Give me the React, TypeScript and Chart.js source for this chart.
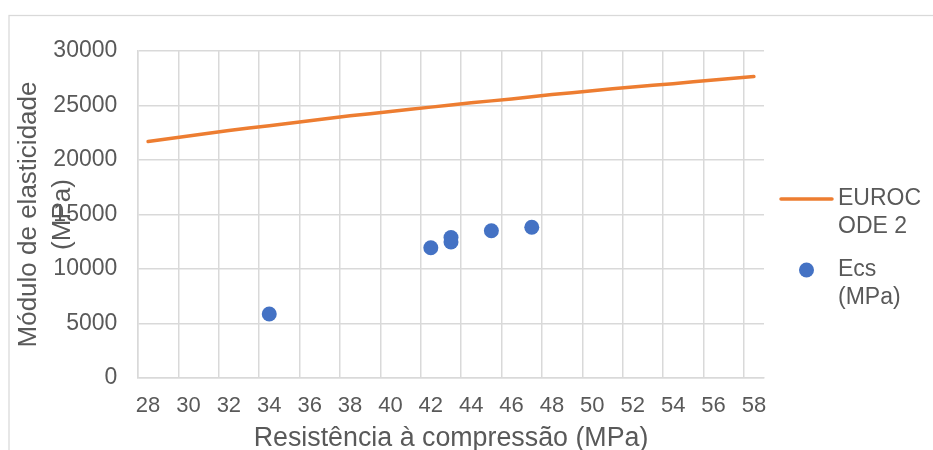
import React, { useEffect, useRef } from 'react';
import { Chart, registerables } from 'chart.js';

Chart.register(...registerables);

// ---- data ----
const xTickLabels = [28, 30, 32, 34, 36, 38, 40, 42, 44, 46, 48, 50, 52, 54, 56, 58];
const yTickValues = [0, 5000, 10000, 15000, 20000, 25000, 30000];

const eurocodeX = [28, 30, 32, 34, 36, 38, 40, 42, 44, 46, 48, 50, 52, 54, 56, 58];
const eurocodeY = [21700, 22200, 22700, 23150, 23600, 24050, 24450, 24850, 25250, 25600, 26000, 26350, 26700, 27000, 27350, 27650];

const ecsX = [34, 42, 43, 43, 45, 47];
const ecsY = [5870, 11950, 12480, 12890, 13510, 13830];

const seriesNames = ['EUROCODE 2', 'Ecs (MPa)'];
const xTitle = 'Resistência à compressão (MPa)';
const yTitle = ['Módulo de elasticidade', '(MPa)'];

const ORANGE = '#ED7D31';
const BLUE = '#4472C4';
const TEXT = '#595959';
const GRID = '#D9D9D9';
const FONT = "'Liberation Sans', Arial, sans-serif";

function wrapText(ctx: CanvasRenderingContext2D, text: string, maxW: number): string[] {
  const words = text.split(' ');
  const lines: string[] = [];
  let cur = '';
  for (const w of words) {
    const cand = cur ? cur + ' ' + w : w;
    if (ctx.measureText(cand).width <= maxW) {
      cur = cand;
      continue;
    }
    if (cur) lines.push(cur);
    cur = '';
    let word = w;
    while (ctx.measureText(word).width > maxW) {
      let n = 1;
      while (n < word.length && ctx.measureText(word.slice(0, n + 1)).width <= maxW) n++;
      lines.push(word.slice(0, n));
      word = word.slice(n);
    }
    cur = word;
  }
  if (cur) lines.push(cur);
  return lines;
}

const framePlugin = {
  id: 'frame',
  beforeDraw(chart: any) {
    const ctx = chart.ctx as CanvasRenderingContext2D;
    ctx.save();
    ctx.fillStyle = '#ffffff';
    ctx.fillRect(0, 0, chart.width, chart.height);
    ctx.strokeStyle = GRID;
    ctx.lineWidth = 1.25;
    ctx.strokeRect(9, 15.5, chart.width + 40, chart.height + 40);
    ctx.restore();
  },
};

const sideLegendPlugin = {
  id: 'sideLegend',
  afterDraw(chart: any) {
    const ctx = chart.ctx as CanvasRenderingContext2D;
    const textX = 838;
    const maxW = 95;
    const lineH = 27.5;
    let y = 199;
    ctx.save();
    ctx.font = `23px ${FONT}`;
    ctx.textBaseline = 'middle';
    ctx.textAlign = 'left';
    chart.data.datasets.forEach((d: any) => {
      const lines = wrapText(ctx, d.label, maxW);
      if (d.showLine) {
        ctx.strokeStyle = d.borderColor;
        ctx.lineWidth = 3.5;
        ctx.lineCap = 'round';
        ctx.beginPath();
        ctx.moveTo(781, y);
        ctx.lineTo(832, y);
        ctx.stroke();
      } else {
        ctx.fillStyle = d.backgroundColor;
        ctx.beginPath();
        ctx.arc(806.5, y, 7.5, 0, Math.PI * 2);
        ctx.fill();
      }
      ctx.fillStyle = TEXT;
      lines.forEach((l, j) => ctx.fillText(l, textX, y + j * lineH));
      y += lines.length * lineH + 16;
    });
    ctx.restore();
  },
};

export default function App() {
  const ref = useRef<HTMLCanvasElement | null>(null);

  useEffect(() => {
    if (!ref.current) return;
    Chart.defaults.font.family = FONT;
    const chart = new Chart(ref.current, {
      type: 'scatter',
      data: {
        datasets: [
          {
            label: seriesNames[0],
            data: eurocodeX.map((x, i) => ({ x, y: eurocodeY[i] })),
            showLine: true,
            borderColor: ORANGE,
            backgroundColor: ORANGE,
            borderWidth: 3.5,
            borderCapStyle: 'round',
            pointRadius: 0,
            tension: 0.3,
          },
          {
            label: seriesNames[1],
            data: ecsX.map((x, i) => ({ x, y: ecsY[i] })),
            backgroundColor: BLUE,
            borderColor: BLUE,
            borderWidth: 0,
            pointRadius: 7.5,
          },
        ],
      },
      options: {
        responsive: false,
        animation: false,
        layout: { padding: { left: 0, top: 51, right: 169, bottom: 0 } },
        plugins: { legend: { display: false }, tooltip: { enabled: false } },
        scales: {
          x: {
            type: 'linear',
            position: 'bottom',
            min: 27.5,
            max: 58.5,
            afterBuildTicks: (s: any) => {
              s.ticks = xTickLabels.map((v) => ({ value: v - 0.5 }));
            },
            afterFit: (s: any) => {
              s.height = 72;
            },
            grid: { color: GRID, lineWidth: 1.5, drawTicks: false },
            border: { color: GRID, width: 1.5 },
            ticks: {
              autoSkip: false,
              maxRotation: 0,
              padding: 14.5,
              labelOffset: 10.1,
              color: TEXT,
              font: { family: "'Liberation Sans Narrow', 'Liberation Sans', Arial, sans-serif", size: 22 },
              callback: (v: any) => String(Number(v) + 0.5),
            },
            title: {
              display: true,
              text: xTitle,
              color: TEXT,
              font: { size: 26.8, lineHeight: 0.85 },
              padding: 0,
            },
          },
          y: {
            type: 'linear',
            min: 0,
            max: 30000,
            afterBuildTicks: (s: any) => {
              s.ticks = yTickValues.map((v) => ({ value: v }));
            },
            afterFit: (s: any) => {
              s.width = 138;
            },
            grid: { color: GRID, lineWidth: 1.5, drawTicks: false },
            border: { color: GRID, width: 1.5 },
            ticks: {
              padding: 20.7,
              color: TEXT,
              font: { size: 23 },
              callback: (v: any) => String(v),
            },
            title: {
              display: true,
              text: yTitle,
              color: TEXT,
              font: { size: 26, lineHeight: 1.28 },
              padding: { top: 12.6, bottom: 0 },
            },
          },
        },
      },
      plugins: [framePlugin, sideLegendPlugin],
    } as any);
    return () => chart.destroy();
  }, []);

  return (
    <div style={{ position: 'absolute', left: 0, top: 0, width: 933, height: 450 }}>
      <canvas ref={ref} width={933} height={450} style={{ display: 'block' }} />
    </div>
  );
}
